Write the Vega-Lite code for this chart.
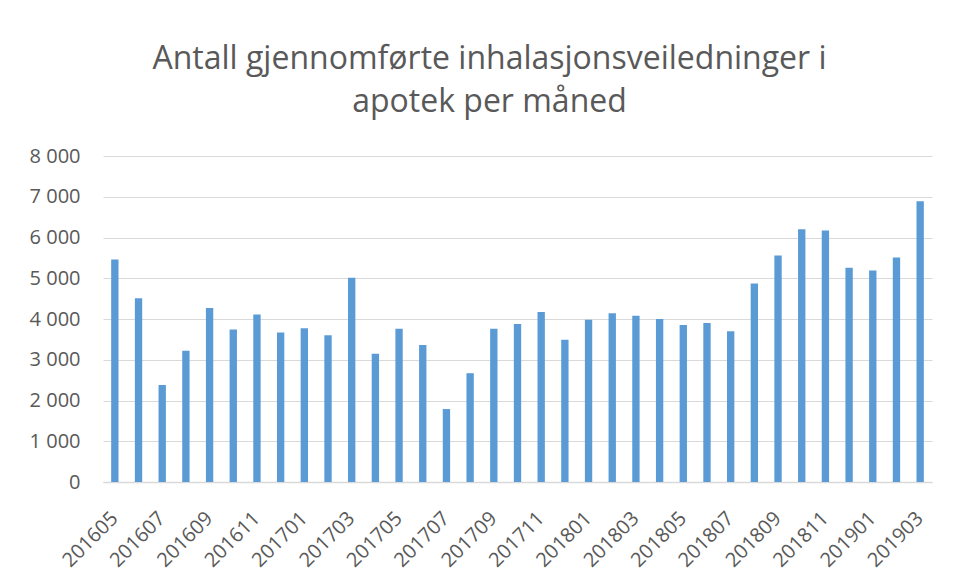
{
  "$schema": "https://vega.github.io/schema/vega-lite/v6.json",
  "autosize": "none",
  "width": 829,
  "height": 326,
  "padding": {"left": 103, "top": 156, "right": 26, "bottom": 99},
  "background": "white",
  "title": {
    "text": ["Antall gjennomførte inhalasjonsveiledninger i", "apotek per måned"],
    "font": "Open Sans",
    "fontSize": 32,
    "fontWeight": "normal",
    "color": "#595959",
    "lineHeight": 43,
    "anchor": "middle",
    "frame": "group",
    "dx": -28,
    "offset": 27
  },
  "data": {
    "values": [
      {"month": "201605", "value": 5460},
      {"month": "201606", "value": 4510},
      {"month": "201607", "value": 2380},
      {"month": "201608", "value": 3220},
      {"month": "201609", "value": 4270},
      {"month": "201610", "value": 3740},
      {"month": "201611", "value": 4110},
      {"month": "201612", "value": 3670},
      {"month": "201701", "value": 3770},
      {"month": "201702", "value": 3600},
      {"month": "201703", "value": 5010},
      {"month": "201704", "value": 3150},
      {"month": "201705", "value": 3760},
      {"month": "201706", "value": 3360},
      {"month": "201707", "value": 1790},
      {"month": "201708", "value": 2670},
      {"month": "201709", "value": 3760},
      {"month": "201710", "value": 3880},
      {"month": "201711", "value": 4170},
      {"month": "201712", "value": 3490},
      {"month": "201801", "value": 3980},
      {"month": "201802", "value": 4140},
      {"month": "201803", "value": 4080},
      {"month": "201804", "value": 4000},
      {"month": "201805", "value": 3850},
      {"month": "201806", "value": 3900},
      {"month": "201807", "value": 3700},
      {"month": "201808", "value": 4870},
      {"month": "201809", "value": 5560},
      {"month": "201810", "value": 6200},
      {"month": "201811", "value": 6170},
      {"month": "201812", "value": 5260},
      {"month": "201901", "value": 5190},
      {"month": "201902", "value": 5510},
      {"month": "201903", "value": 6890}
    ]
  },
  "mark": {"type": "bar", "color": "#5b9bd5"},
  "encoding": {
    "x": {
      "field": "month",
      "type": "ordinal",
      "sort": null,
      "scale": {"paddingInner": 0.69, "paddingOuter": 0.345},
      "axis": {
        "title": null,
        "values": ["201605","201607","201609","201611","201701","201703","201705","201707","201709","201711","201801","201803","201805","201807","201809","201811","201901","201903"],
        "labelAngle": -45,
        "labelAlign": "right",
        "labelBaseline": "middle",
        "labelPadding": 33,
        "labelFont": "Open Sans",
        "labelFontSize": 20,
        "labelColor": "#595959",
        "ticks": false,
        "domainColor": "#d9d9d9",
        "domainWidth": 1.5,
        "grid": false
      }
    },
    "y": {
      "field": "value",
      "type": "quantitative",
      "scale": {"domain": [0, 8000], "nice": false},
      "axis": {
        "title": null,
        "values": [0,1000,2000,3000,4000,5000,6000,7000,8000],
        "labelExpr": "replace(format(datum.value, ','), ',', ' ')",
        "labelFont": "Open Sans",
        "labelFontSize": 20,
        "labelColor": "#595959",
        "labelPadding": 23,
        "ticks": false,
        "domain": false,
        "grid": true,
        "gridColor": "#d9d9d9",
        "gridWidth": 1.2
      }
    }
  },
  "config": {"view": {"stroke": null}}
}
